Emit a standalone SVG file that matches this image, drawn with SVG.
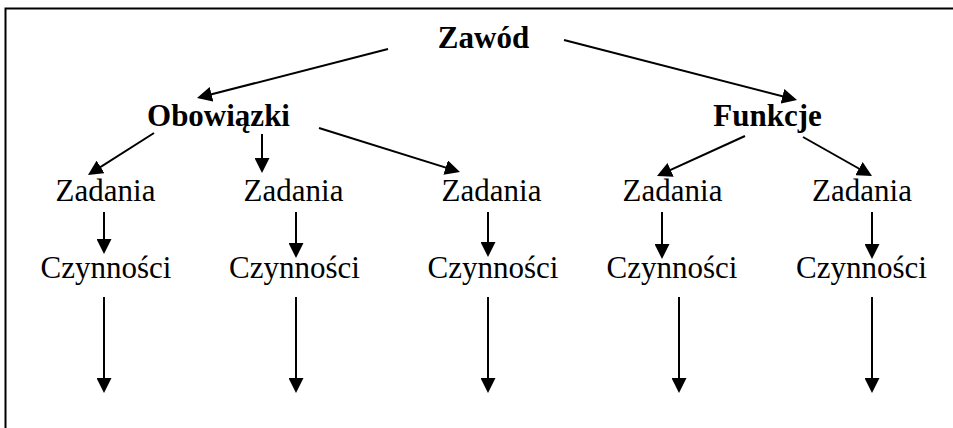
<svg xmlns="http://www.w3.org/2000/svg" width="953" height="428" viewBox="0 0 953 428">
  <style>
    text { font-family: "Liberation Serif", "Times New Roman", serif; font-size: 31px; fill: #000; text-anchor: middle; }
    .bold { font-weight: bold; }
    .frame { fill: none; stroke: #000; stroke-width: 2; }
    .arrow { stroke: #000; stroke-width: 2; fill: none; marker-end: url(#head); }
  </style>
  <defs>
    <marker id="head" markerUnits="userSpaceOnUse" markerWidth="15" markerHeight="15" refX="12" refY="7.5" orient="auto">
      <path d="M0,0 L15,7.5 L0,15 z" fill="#000"/>
    </marker>
  </defs>
  <rect width="953" height="428" fill="#fff"/>
  <!-- frame: only top and left edges fall inside the canvas -->
  <path class="frame" d="M5.5,430 L5.5,8.5 L955,8.5"/>

  <g id="zawod"><text class="bold" x="483.5" y="48">Zawód</text></g>
  <g id="obowiazki"><text class="bold" x="218.5" y="126">Obowiązki</text></g>
  <g id="funkcje"><text class="bold" x="767.5" y="126">Funkcje</text></g>

  <g id="zadania-1"><text x="105.5" y="201">Zadania</text></g>
  <g id="zadania-2"><text x="293.5" y="201">Zadania</text></g>
  <g id="zadania-3"><text x="491.5" y="201">Zadania</text></g>
  <g id="zadania-4"><text x="672.5" y="201">Zadania</text></g>
  <g id="zadania-5"><text x="862" y="201">Zadania</text></g>

  <g id="czynnosci-1"><text x="106" y="277.5">Czynności</text></g>
  <g id="czynnosci-2"><text x="294.5" y="277.5">Czynności</text></g>
  <g id="czynnosci-3"><text x="493" y="277.5">Czynności</text></g>
  <g id="czynnosci-4"><text x="672" y="277.5">Czynności</text></g>
  <g id="czynnosci-5"><text x="861.5" y="277.5">Czynności</text></g>

  <g id="connectors">
    <!-- level 1 -->
    <line class="arrow" x1="388" y1="49" x2="199.9" y2="97.3"/>
    <line class="arrow" x1="564" y1="40" x2="794.1" y2="99.3"/>
    <!-- level 2 -->
    <line class="arrow" x1="154" y1="133" x2="90.5" y2="173.4"/>
    <line class="arrow" x1="262" y1="134" x2="262" y2="170"/>
    <line class="arrow" x1="319" y1="128" x2="457.1" y2="171.1"/>
    <line class="arrow" x1="745" y1="136" x2="659.7" y2="174.8"/>
    <line class="arrow" x1="803" y1="137" x2="869.4" y2="174.5"/>
    <!-- Zadania to Czynności -->
    <line class="arrow" x1="104" y1="212" x2="104" y2="251"/>
    <line class="arrow" x1="296" y1="212" x2="296" y2="255"/>
    <line class="arrow" x1="488" y1="212" x2="488" y2="254"/>
    <line class="arrow" x1="662" y1="212" x2="662" y2="256"/>
    <line class="arrow" x1="872" y1="212" x2="872" y2="256"/>
    <!-- open-ended arrows below Czynności -->
    <line class="arrow" x1="104" y1="297" x2="104" y2="390"/>
    <line class="arrow" x1="296" y1="297" x2="296" y2="390"/>
    <line class="arrow" x1="488" y1="297" x2="488" y2="390"/>
    <line class="arrow" x1="679" y1="297" x2="679" y2="390"/>
    <line class="arrow" x1="872" y1="297" x2="872" y2="390"/>
  </g>
</svg>
